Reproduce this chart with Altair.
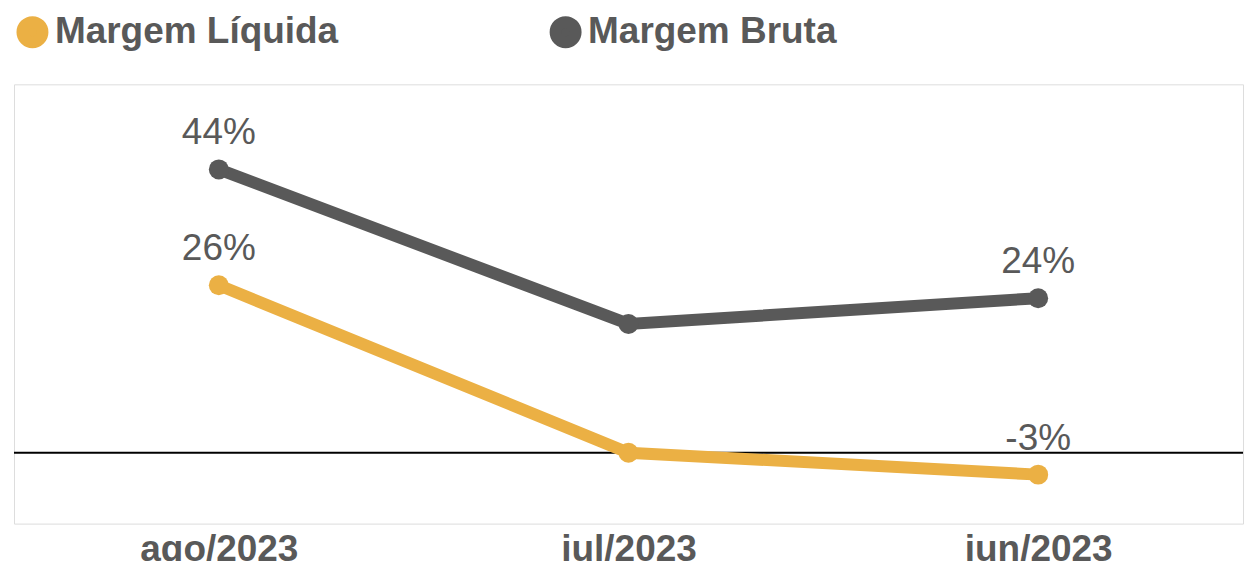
import altair as alt
import pandas as pd

meses = ["ago/2023", "jul/2023", "jun/2023"]
series = ["Margem Líquida", "Margem Bruta"]
liquida = [26, 0, -3.4]
bruta = [44, 20, 24]
rot_liquida = ["26%", "", "-3%"]
rot_bruta = ["44%", "", "24%"]
cores = ["#EBB044", "#595959"]

rows = []
for m, v, r in zip(meses, liquida, rot_liquida):
    rows.append({"mes": m, "serie": series[0], "valor": v, "rotulo": r})
for m, v, r in zip(meses, bruta, rot_bruta):
    rows.append({"mes": m, "serie": series[1], "valor": v, "rotulo": r})
df = pd.DataFrame(rows)
df_lab = df[df["rotulo"] != ""].reset_index(drop=True)
zero_df = pd.DataFrame({"valor": [0.0]})

FONT = "Liberation Sans"
W, H = 1231, 440
PX_PER = 6.45
ZERO = 369
y_dom = [-(H - ZERO) / PX_PER, ZERO / PX_PER]

y_scale = alt.Scale(domain=y_dom, nice=False, zero=False)

x_enc = alt.X("mes:O", sort=meses,
              axis=alt.Axis(title=None, domain=False, ticks=False, grid=False,
                            labelFont=FONT, labelFontSize=37, labelFontWeight="bold",
                            labelColor="#595959", labelPadding=8, labelAngle=0))
y_enc = alt.Y("valor:Q", scale=y_scale, axis=None)

color_enc = alt.Color("serie:N", scale=alt.Scale(domain=series, range=cores),
                      legend=alt.Legend(title=None, orient="top", direction="horizontal",
                                        labelFont=FONT, labelFontSize=37, labelFontWeight="bold",
                                        labelColor="#595959", labelLimit=0, columnPadding=193,
                                        symbolSize=400, symbolStrokeWidth=12))

zero_rule = alt.Chart(zero_df).mark_rule(color="black", strokeWidth=2).encode(
    y=alt.Y("valor:Q", scale=y_scale, axis=None)
)

lines = alt.Chart(df).mark_line(
    strokeWidth=12, point=alt.OverlayMarkDef(size=400, filled=True)
).encode(x=x_enc, y=y_enc, color=color_enc)

texts = alt.Chart(df_lab).mark_text(
    font=FONT, fontSize=37, color="#595959", baseline="alphabetic", dy=-25
).encode(x=x_enc, y=y_enc, text="rotulo:N")

chart = alt.layer(zero_rule, lines, texts).properties(width=W, height=H)

chart.save("out.html", embed_options={"renderer": "svg", "actions": False})
